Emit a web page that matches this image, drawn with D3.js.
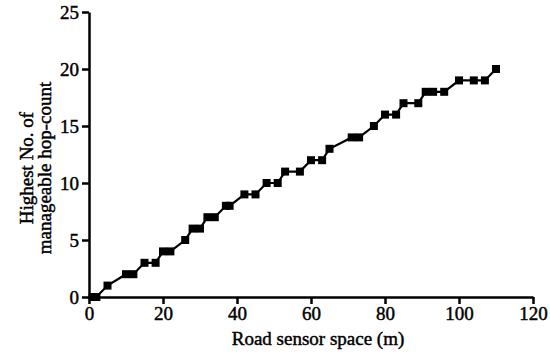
<!DOCTYPE html>
<html>
<head>
<meta charset="utf-8">
<script src="https://cdn.jsdelivr.net/npm/d3@7"></script>
<style>
  html, body { margin: 0; padding: 0; background: #fff; }
  svg text { font-family: "Liberation Serif", "Times New Roman", serif; fill: #000; stroke: #000; stroke-width: 0.45px; }
</style>
</head>
<body>
<svg id="chart" width="550" height="355"></svg>
<script>
// Data
const distance = [1, 2, 5, 10, 12, 15, 18, 20, 22, 26, 28, 30, 32, 34, 37, 38, 42, 45, 48, 51, 53, 57, 60, 63, 65, 71, 73, 77, 80, 83, 85, 89, 91, 93, 96, 100, 104, 107, 110];
const hops     = [0, 0, 1, 2, 2, 3, 3, 4, 4, 5, 6, 6, 7, 7, 8, 8, 9, 9, 10, 10, 11, 11, 12, 12, 13, 14, 14, 15, 16, 16, 17, 17, 18, 18, 18, 19, 19, 19, 20];
const xTicks = [0, 20, 40, 60, 80, 100, 120];
const yTicks = [0, 5, 10, 15, 20, 25];
const xTitle = "Road sensor space (m)";
const yTitleLines = ["Highest No. of", "manageable hop-count"];

const svg = d3.select("#chart");
const margin = { left: 89, right: 17, top: 12, bottom: 58 };
const W = 550, H = 355;
const FS = 19;

const x = d3.scaleLinear().domain([0, 120]).range([margin.left, W - margin.right]);
const y = d3.scaleLinear().domain([0, 25]).range([H - margin.bottom, margin.top]);

const data = distance.map((d, i) => ({ x: d, y: hops[i] }));

// Line
svg.append("path")
  .datum(data)
  .attr("fill", "none")
  .attr("stroke", "#000")
  .attr("stroke-width", 2.2)
  .attr("d", d3.line().x(d => x(d.x)).y(d => y(d.y)));

// Square markers
const s = 8;
svg.append("g").selectAll("rect")
  .data(data)
  .join("rect")
  .attr("x", d => x(d.x) - s / 2)
  .attr("y", d => y(d.y) - s / 2)
  .attr("width", s)
  .attr("height", s)
  .attr("fill", "#000");

// X axis
const gx = svg.append("g")
  .attr("transform", `translate(0,${y(0)})`)
  .call(d3.axisBottom(x).tickValues(xTicks).tickSize(7).tickPadding(3).tickSizeOuter(0));

// Y axis
const gy = svg.append("g")
  .attr("transform", `translate(${x(0)},0)`)
  .call(d3.axisLeft(y).tickValues(yTicks).tickSize(7).tickPadding(3).tickSizeOuter(0));

[gx, gy].forEach(g => {
  g.select(".domain").attr("stroke", "#000").attr("stroke-width", 2.5);
  g.selectAll(".tick line").attr("stroke", "#000").attr("stroke-width", 2.5);
  g.selectAll(".tick text").attr("font-size", FS).attr("fill", "#000")
    .style("font-family", '"Liberation Serif", "Times New Roman", serif');
});

// Axis titles
svg.append("text")
  .attr("x", 318)
  .attr("y", 345)
  .attr("text-anchor", "middle")
  .attr("font-size", FS)
  .text(xTitle);

const yt = svg.append("text")
  .attr("transform", `translate(0,168) rotate(-90)`)
  .attr("text-anchor", "middle")
  .attr("font-size", FS);
yt.append("tspan").attr("x", 0).attr("y", 33).text(yTitleLines[0]);
yt.append("tspan").attr("x", 0).attr("y", 51).text(yTitleLines[1]);
</script>
</body>
</html>
